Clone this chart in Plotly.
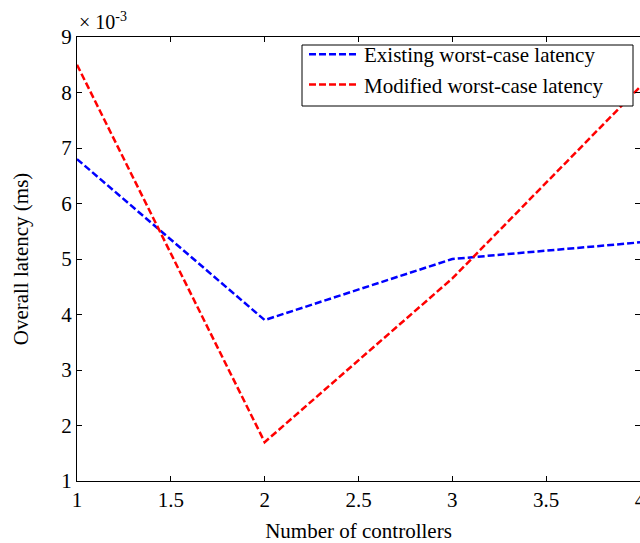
import plotly.graph_objects as go

controllers = [1, 2, 3, 4]
existing = [6.8, 3.9, 5.0, 5.3]
modified = [8.5, 1.7, 4.65, 8.1]
x_ticks = [1, 1.5, 2, 2.5, 3, 3.5, 4]
x_tick_labels = ["1", "1.5", "2", "2.5", "3", "3.5", "4"]
y_ticks = [1, 2, 3, 4, 5, 6, 7, 8, 9]

font = "Liberation Serif, Times New Roman, serif"

# plot area in pixels (for positioning helpers)
L, R, T, B = 77, 640, 37, 481
W, H = R - L, B - T

def px_x(p):
    return (p - L) / W

def px_y(p):
    return 1 - (p - T) / H

fig = go.Figure()
fig.add_trace(go.Scatter(x=controllers, y=existing, mode="lines",
                         name="Existing worst-case latency",
                         line=dict(color="#0000ff", width=2.5, dash="7px,3px")))
fig.add_trace(go.Scatter(x=controllers, y=modified, mode="lines",
                         name="Modified worst-case latency",
                         line=dict(color="#ff0000", width=2.5, dash="7px,3px")))

axis_common = dict(showline=True, linecolor="black", linewidth=1.2, mirror="ticks",
                   ticks="inside", ticklen=5, tickcolor="black", tickwidth=1,
                   showgrid=False, zeroline=False, ticklabeloverflow="allow",
                   automargin=False,
                   tickfont=dict(family=font, size=21, color="black"))

fig.update_xaxes(range=[1, 4], tickvals=x_ticks, ticktext=x_tick_labels,
                 title=dict(text="Number of controllers", font=dict(family=font, size=21, color="black"), standoff=14),
                 **axis_common)
fig.update_yaxes(range=[1, 9], tickvals=y_ticks,
                 title=dict(text="Overall latency (ms)", font=dict(family=font, size=21, color="black"), standoff=26),
                 **axis_common)

fig.add_annotation(text="× 10<sup>-3</sup>", xref="paper", yref="paper", x=0, y=1,
                   xanchor="left", yanchor="bottom", yshift=2, showarrow=False,
                   font=dict(family=font, size=20, color="black"))

# legend frame
fig.add_shape(type="rect", xref="paper", yref="paper",
              x0=px_x(302), x1=px_x(633), y0=px_y(106), y1=px_y(45),
              line=dict(color="black", width=1), fillcolor="white", layer="above")

fig.update_layout(
    width=640, height=543,
    margin=dict(l=L, r=640 - R, t=T, b=543 - B, autoexpand=False),
    paper_bgcolor="white", plot_bgcolor="white",
    showlegend=True,
    legend=dict(x=px_x(304), y=px_y(34), xanchor="left", yanchor="top",
                borderwidth=0, bgcolor="rgba(0,0,0,0)",
                font=dict(family=font, size=21, color="black"),
                itemwidth=50, tracegroupgap=0),
)

fig.write_html("out.html")
